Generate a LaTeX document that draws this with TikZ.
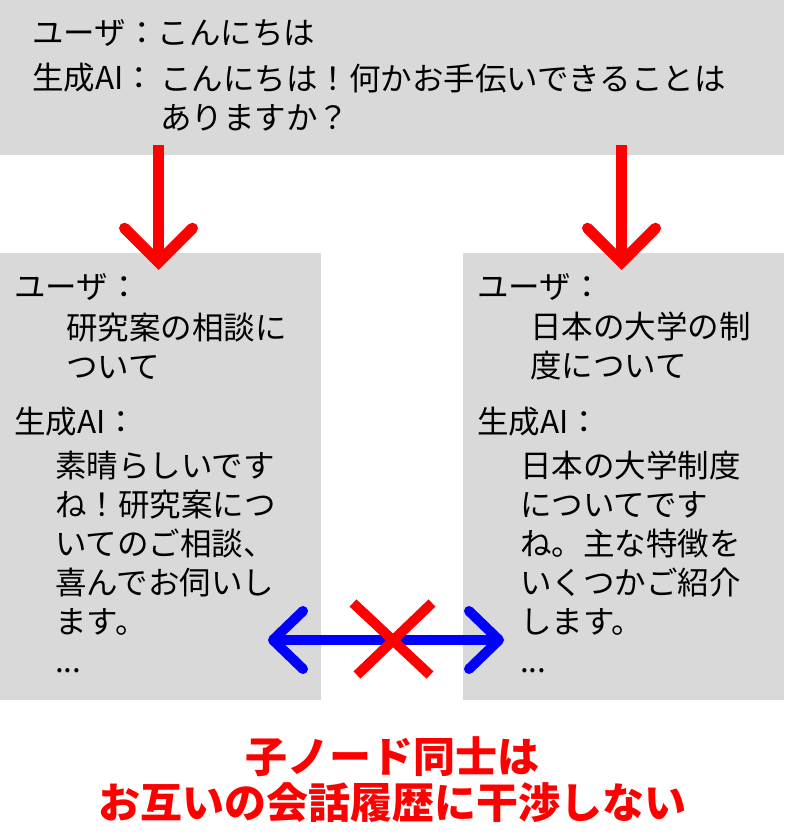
\documentclass[tikz,border=0pt]{standalone}
\usepackage{fontspec}
\setmainfont{Noto Sans CJK JP}
\usetikzlibrary{arrows.meta}

\definecolor{boxgray}{HTML}{D9D9D9}
\definecolor{xred}{HTML}{FF0000}
\definecolor{xblue}{HTML}{0000FF}

\tikzset{
    txt/.style={anchor=west, inner sep=0pt, align=left,
        font=\fontsize{31.5}{39}\selectfont},
    note/.style={inner sep=0pt, align=center, text=xred,
        font=\fontsize{42}{46}\selectfont\bfseries},
    barb/.style={Straight Barb[length=34pt, width=68pt, line cap=round]},
    down/.style={xred, line width=11pt, -{Straight Barb[length=34pt, width=68pt, line cap=round]}},
    both/.style={xblue, line width=10pt,
        {Straight Barb[length=30pt, width=58pt, line cap=round, line join=round]}-{Straight Barb[length=30pt, width=58pt, line cap=round, line join=round]}}
}

\begin{document}
\begin{tikzpicture}[x=1pt, y=-1pt]

    \useasboundingbox (0,0) rectangle (784,837);

    % boxes
    \fill[boxgray] (0,0) rectangle (784,155);
    \fill[boxgray] (0,253) rectangle (321,700);
    \fill[boxgray] (463,253) rectangle (784,700);

    % parent
    \node[txt] (puser) at (32,33) {ユーザ：こんにちは};
    \node[txt] (pai) at (32,78) {生成AI：};
    \node[txt] (pans) at (160,98) {こんにちは！何かお手伝いできることは\\ありますか？};

    % left child
    \node[txt] (luser) at (14,287) {ユーザ：};
    \node[txt] (lask) at (66,346) {研究案の相談に\\ついて};
    \node[txt] (lai) at (14,422) {生成AI：};
    \node[txt] (lans) at (55,562) {素晴らしいです\\ね！研究案につ\\いてのご相談、\\喜んでお伺いし\\ます。\\...};

    % right child
    \node[txt] (ruser) at (477,287) {ユーザ：};
    \node[txt] (rask) at (530,346) {日本の大学の制\\度について};
    \node[txt] (rai) at (477,422) {生成AI：};
    \node[txt] (rans) at (520,562) {日本の大学制度\\についてです\\ね。主な特徴を\\いくつかご紹介\\します。\\...};

    % arrows
    \coordinate (ltop) at (158.5,145);
    \coordinate (ltip) at (158.5,270);
    \coordinate (rtop) at (621.5,145);
    \coordinate (rtip) at (621.5,270);
    \draw[down] (ltop) -- (ltip);
    \draw[down] (rtop) -- (rtip);

    \coordinate (bl) at (268,640);
    \coordinate (br) at (504,640);
    \draw[both] (bl) -- (br);

    % cross
    \coordinate (xa) at (353,603);
    \coordinate (xb) at (430,675);
    \coordinate (xc) at (432,603);
    \coordinate (xd) at (357,675);
    \draw[xred, line width=10pt] (xa) -- (xb);
    \draw[xred, line width=10pt] (xc) -- (xd);

    \node[note] (msg) at (392,780) {子ノード同士は\\お互いの会話履歴に干渉しない};

\end{tikzpicture}
\end{document}
